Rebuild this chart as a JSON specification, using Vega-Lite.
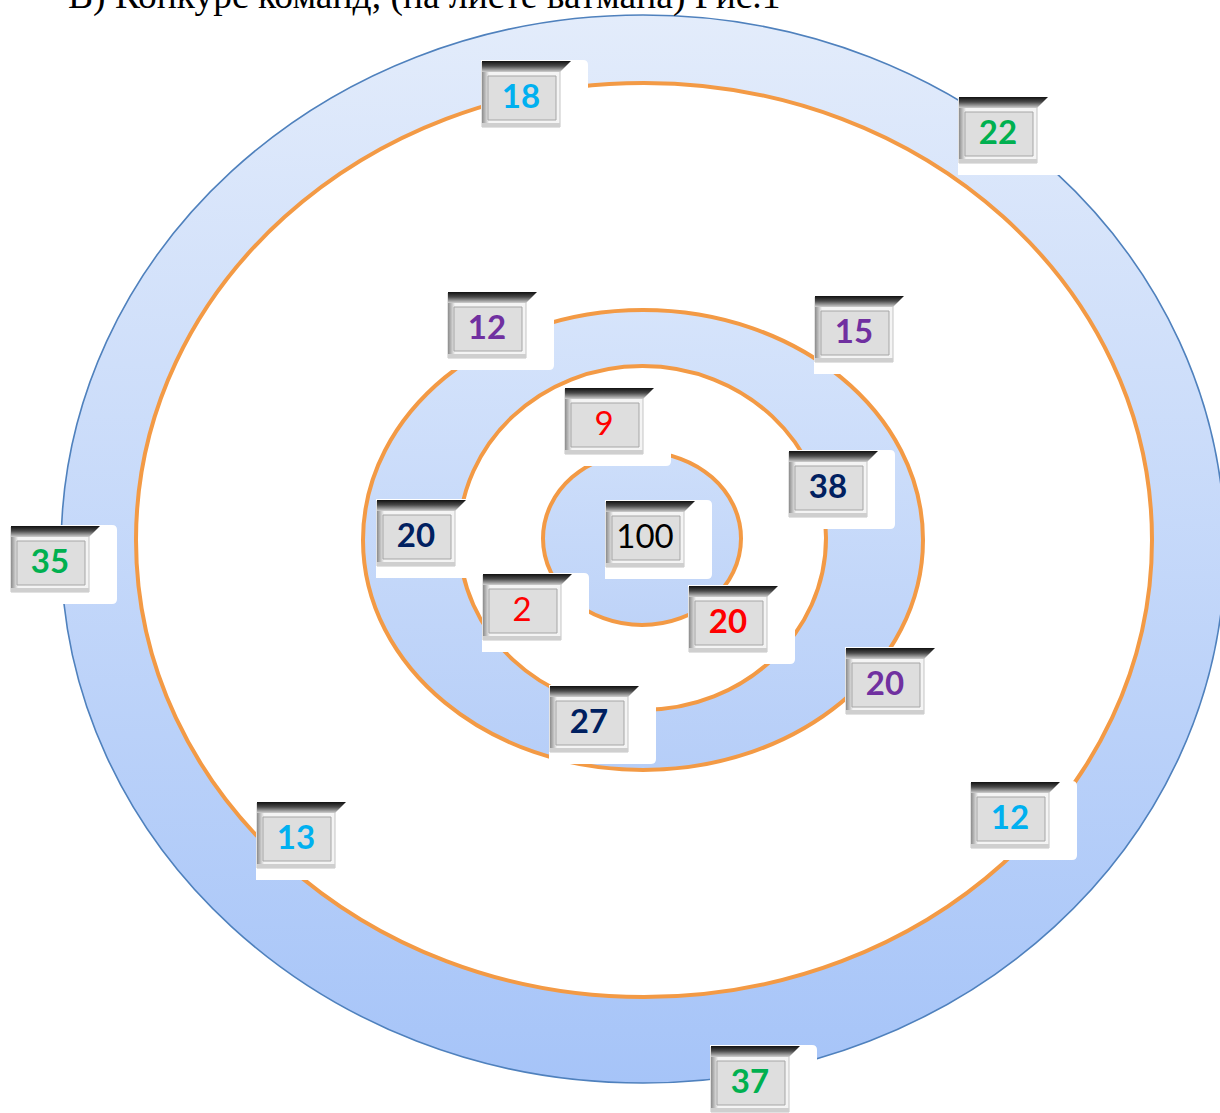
{
  "$schema": "https://vega.github.io/schema/vega-lite/v6.json",
  "width": 1220,
  "height": 1113,
  "padding": 0,
  "autosize": {"type": "none"},
  "background": "white",
  "config": {"view": {"stroke": null}},
  "datasets": {
    "rings": [
      {"ring": "outer", "x": 643, "y": 549, "rx": 582, "ry": 534},
      {"ring": "band1", "x": 644, "y": 540, "rx": 508, "ry": 457},
      {"ring": "band2", "x": 643, "y": 540, "rx": 280, "ry": 230},
      {"ring": "band3", "x": 642.5, "y": 538, "rx": 183.5, "ry": 172},
      {"ring": "core", "x": 642, "y": 538.5, "rx": 99, "ry": 86.5}
    ],
    "scores": [
      {"id": 1, "label": "18", "team": "A", "x": 521, "y": 97},
      {"id": 2, "label": "22", "team": "B", "x": 998, "y": 133},
      {"id": 3, "label": "12", "team": "C", "x": 487, "y": 328},
      {"id": 4, "label": "15", "team": "C", "x": 854, "y": 332},
      {"id": 5, "label": "9", "team": "E", "x": 604, "y": 424},
      {"id": 6, "label": "38", "team": "D", "x": 828, "y": 487},
      {"id": 7, "label": "20", "team": "D", "x": 416, "y": 536},
      {"id": 8, "label": "35", "team": "B", "x": 50, "y": 562},
      {"id": 9, "label": "100", "team": "F", "x": 645, "y": 537},
      {"id": 10, "label": "2", "team": "E", "x": 522, "y": 610},
      {"id": 11, "label": "20", "team": "E", "x": 728, "y": 622},
      {"id": 12, "label": "20", "team": "C", "x": 885, "y": 684},
      {"id": 13, "label": "27", "team": "D", "x": 589, "y": 722},
      {"id": 14, "label": "12", "team": "A", "x": 1010, "y": 818},
      {"id": 15, "label": "13", "team": "A", "x": 296, "y": 838},
      {"id": 16, "label": "37", "team": "B", "x": 750, "y": 1082}
    ],
    "heading": [
      {"text": "В) Конкурс команд, (на листе ватмана) Рис.1", "x": 68, "y": 8}
    ]
  },
  "encoding": {
    "x": {"field": "x", "type": "quantitative", "scale": {"domain": [0, 1220], "nice": false, "zero": false}, "axis": null},
    "y": {"field": "y", "type": "quantitative", "scale": {"domain": [0, 1113], "reverse": true, "nice": false, "zero": false}, "axis": null}
  },
  "layer": [
    {
      "data": {"name": "rings"},
      "transform": [{"filter": "datum.ring == 'outer'"}],
      "mark": {"type": "point", "filled": true, "opacity": 1, "shape": "M -1 0 A 1 0.9175 0 1 1 1 0 A 1 0.9175 0 1 1 -1 0 Z",
        "fill": {"gradient": "linear", "x1": 0.5, "y1": 0, "x2": 0.5, "y2": 1, "stops": [{"offset": 0, "color": "#e3ecfb"}, {"offset": 1, "color": "#a6c4f8"}]},
        "stroke": "#4f81bd", "strokeWidth": 1.6},
      "encoding": {"size": {"field": "rx", "type": "quantitative", "scale": {"type": "pow", "exponent": 2, "domain": [0, 600], "range": [0, 1440000]}, "legend": null}}
    },
    {
      "data": {"name": "rings"},
      "transform": [{"filter": "datum.ring == 'band1'"}],
      "mark": {"type": "point", "filled": true, "opacity": 1, "shape": "M -1 0 A 1 0.8996 0 1 1 1 0 A 1 0.8996 0 1 1 -1 0 Z",
        "fill": "#ffffff", "stroke": "#f39a45", "strokeWidth": 4},
      "encoding": {"size": {"field": "rx", "type": "quantitative", "scale": {"type": "pow", "exponent": 2, "domain": [0, 600], "range": [0, 1440000]}, "legend": null}}
    },
    {
      "data": {"name": "rings"},
      "transform": [{"filter": "datum.ring == 'band2'"}],
      "mark": {"type": "point", "filled": true, "opacity": 1, "shape": "M -1 0 A 1 0.8214 0 1 1 1 0 A 1 0.8214 0 1 1 -1 0 Z",
        "fill": {"gradient": "linear", "x1": 0.5, "y1": 0, "x2": 0.5, "y2": 1, "stops": [{"offset": 0, "color": "#d6e4fb"}, {"offset": 1, "color": "#b6cef8"}]},
        "stroke": "#f39a45", "strokeWidth": 4},
      "encoding": {"size": {"field": "rx", "type": "quantitative", "scale": {"type": "pow", "exponent": 2, "domain": [0, 600], "range": [0, 1440000]}, "legend": null}}
    },
    {
      "data": {"name": "rings"},
      "transform": [{"filter": "datum.ring == 'band3'"}],
      "mark": {"type": "point", "filled": true, "opacity": 1, "shape": "M -1 0 A 1 0.9373 0 1 1 1 0 A 1 0.9373 0 1 1 -1 0 Z",
        "fill": "#ffffff", "stroke": "#f39a45", "strokeWidth": 4},
      "encoding": {"size": {"field": "rx", "type": "quantitative", "scale": {"type": "pow", "exponent": 2, "domain": [0, 600], "range": [0, 1440000]}, "legend": null}}
    },
    {
      "data": {"name": "rings"},
      "transform": [{"filter": "datum.ring == 'core'"}],
      "mark": {"type": "point", "filled": true, "opacity": 1, "shape": "M -1 0 A 1 0.8737 0 1 1 1 0 A 1 0.8737 0 1 1 -1 0 Z",
        "fill": {"gradient": "linear", "x1": 0.5, "y1": 0, "x2": 0.5, "y2": 1, "stops": [{"offset": 0, "color": "#cddefa"}, {"offset": 1, "color": "#bed3f8"}]},
        "stroke": "#f39a45", "strokeWidth": 4},
      "encoding": {"size": {"field": "rx", "type": "quantitative", "scale": {"type": "pow", "exponent": 2, "domain": [0, 600], "range": [0, 1440000]}, "legend": null}}
    },
    {
      "data": {"name": "scores"},
      "mark": {"type": "point", "filled": true, "opacity": 1, "size": 4, "strokeWidth": 0,
        "shape": "M -40 -37 L 62 -37 Q 67 -37 67 -32 L 67 37 Q 67 42 62 42 L -40 42 Z", "fill": "#ffffff"}
    },
    {
      "data": {"name": "scores"},
      "mark": {"type": "point", "filled": true, "opacity": 1, "size": 4,
        "shape": "M -39 -35 L 39 -35 L 39 30 L -39 30 Z", "fill": "#f4f4f4", "stroke": "#b8b8b8", "strokeWidth": 0.8}
    },
    {
      "data": {"name": "scores"},
      "mark": {"type": "point", "filled": true, "opacity": 1, "size": 4, "strokeWidth": 0,
        "shape": "M -39 -35 L -32 -35 L -32 30 L -39 30 Z",
        "fill": {"gradient": "linear", "x1": 0, "y1": 0.5, "x2": 1, "y2": 0.5, "stops": [{"offset": 0, "color": "#8c8c8c"}, {"offset": 1, "color": "#f4f4f4"}]}}
    },
    {
      "data": {"name": "scores"},
      "mark": {"type": "point", "filled": true, "opacity": 1, "size": 4, "strokeWidth": 0,
        "shape": "M -39 26 L 39 26 L 39 30 L -39 30 Z", "fill": "#cfcfcf"}
    },
    {
      "data": {"name": "scores"},
      "mark": {"type": "point", "filled": true, "opacity": 1, "size": 4, "strokeWidth": 0,
        "shape": "M -39 -36 L 50 -36 L 39 -25 L -39 -25 Z",
        "fill": {"gradient": "linear", "x1": 0.5, "y1": 0, "x2": 0.5, "y2": 1, "stops": [{"offset": 0, "color": "#111111"}, {"offset": 0.45, "color": "#4a4a4a"}, {"offset": 1, "color": "#cfcfcf"}]}}
    },
    {
      "data": {"name": "scores"},
      "mark": {"type": "point", "filled": true, "opacity": 1, "size": 4,
        "shape": "M -33 -21 L 35 -21 L 35 23 L -33 23 Z", "fill": "#dedede", "stroke": "#a6a6a6", "strokeWidth": 1}
    },
    {
      "data": {"name": "scores"},
      "transform": [{"filter": "indexof([5, 9, 10], datum.id) < 0"}],
      "mark": {"type": "text", "font": "Lato", "fontWeight": "bold", "fontSize": 33, "align": "center", "baseline": "middle", "dy": 1},
      "encoding": {
        "text": {"field": "label"},
        "color": {"field": "team", "type": "nominal", "scale": {"domain": ["A", "B", "C", "D", "E", "F"], "range": ["#00b0f0", "#00b050", "#7030a0", "#002060", "#ff0000", "#000000"]}, "legend": null}
      }
    },
    {
      "data": {"name": "scores"},
      "transform": [{"filter": "indexof([5, 9, 10], datum.id) >= 0"}],
      "mark": {"type": "text", "font": "Lato", "fontWeight": "normal", "fontSize": 33, "align": "center", "baseline": "middle", "dy": 1},
      "encoding": {
        "text": {"field": "label"},
        "color": {"field": "team", "type": "nominal", "scale": {"domain": ["A", "B", "C", "D", "E", "F"], "range": ["#00b0f0", "#00b050", "#7030a0", "#002060", "#ff0000", "#000000"]}, "legend": null}
      }
    },
    {
      "data": {"name": "heading"},
      "mark": {"type": "text", "font": "Liberation Serif", "fontSize": 37.5, "align": "left", "baseline": "alphabetic", "color": "#000000", "clip": true},
      "encoding": {"text": {"field": "text"}}
    }
  ]
}
